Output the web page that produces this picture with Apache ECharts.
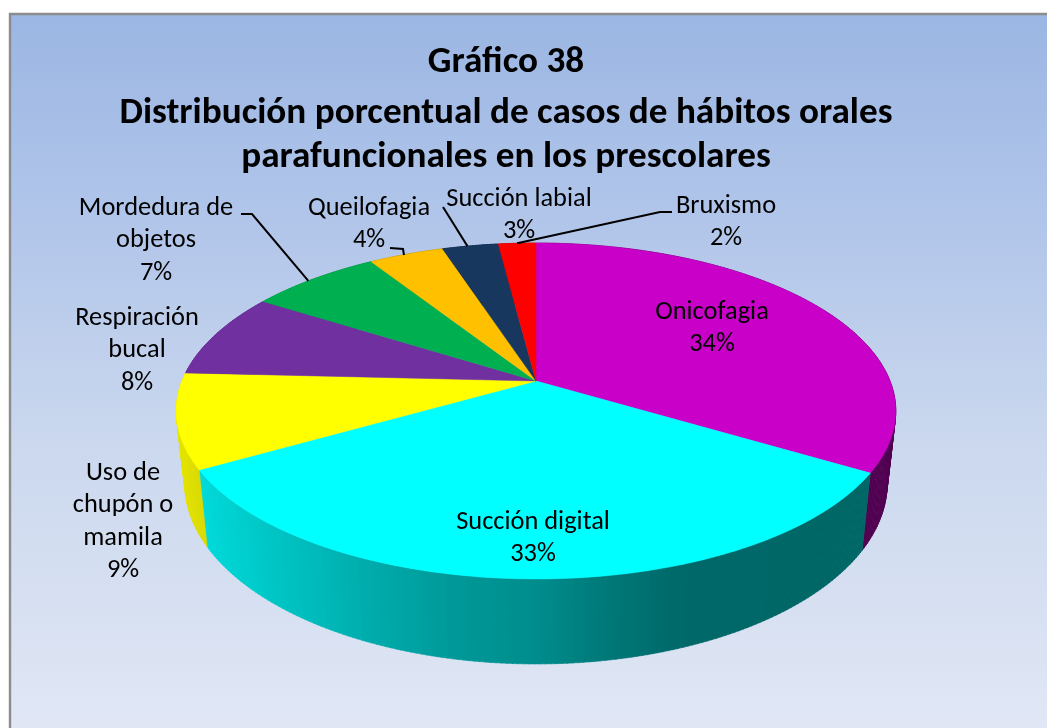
<!DOCTYPE html>
<html><head><meta charset="utf-8">
<style>html,body{margin:0;padding:0;background:#fff}#c{width:1047px;height:728px}</style>
<script src="https://cdn.jsdelivr.net/npm/echarts@6/dist/echarts.min.js"></script>
</head><body><div id="c"></div>
<script>
const categories = ['Onicofagia','Succión digital','Uso de chupón o mamila','Respiración bucal','Mordedura de objetos','Queilofagia','Succión labial','Bruxismo'];
const values = [33.6,33.1,9.1,8.2,7,4,3,2];
const percentLabels = ['34%','33%','9%','8%','7%','4%','3%','2%'];
const colors = ['#c800c8','#00ffff','#ffff00','#7030a0','#00b050','#ffc000','#17375e','#ff0000'];
const titleLines = ['Gráfico 38','Distribución porcentual de casos de hábitos orales','parafuncionales en los prescolares'];
const labelLines = [['Onicofagia'],['Succión digital'],['Uso de','chupón o','mamila'],['Respiración','bucal'],['Mordedura de','objetos'],['Queilofagia'],['Succión labial'],['Bruxismo']];
// label layout: block centre x, first-line centre y
const labelPos = [[712,312],[533,522],[123,473],[137,318],[156,208],[369,208],[519,199],[726,206]];
// leader lines: fixed elbow points, ending on the slice rim (by fraction of the slice)
const leaders = {4:{pts:[[241,214],[252,214]],f:.45},5:{pts:[[390,248],[403,249],[404,255]],f:null},6:{pts:[[443,207]],f:.45},7:{pts:[[672,212],[660,212]],f:.5}};

const cx=536, cy=381, e=0.1786, A=162.6, B=354, S=0.976;
function rimTop(t){const u=Math.sin(t),v=-Math.cos(t),w=1-e*v;return [cx+B*u/w,cy+A*v/w];}
function rimLow(t){const p=rimTop(t);const d=77+(p[1]-471)*0.074;return [cx+(p[0]-cx)*S,p[1]+d];}
function shade(x){const k=[[170,.9],[209,.84],[360,.68],[450,.6],[536,.55],[610,.47],[680,.41],[900,.40]];
  for(let i=1;i<k.length;i++){if(x<=k[i][0]){const a=k[i-1],b=k[i];return a[1]+(b[1]-a[1])*(x-a[0])/(b[0]-a[0]);}}return .4;}
function darken(hex,f){const n=parseInt(hex.slice(1),16);return 'rgb('+[(n>>16)&255,(n>>8)&255,n&255].map(c=>Math.round(c*f)).join(',')+')';}
const total=values.reduce((a,b)=>a+b,0);
const starts=[];values.reduce((s,v,i)=>{starts[i]=s;return s+v;},0);
const ang=v=>v/total*Math.PI*2;
const data=values.map((v,i)=>({name:categories[i],value:[v,starts[i]]}));

function sideItem(params,api){
  const i=params.dataIndex,a0=ang(api.value(1)),a1=a0+ang(api.value(0)),ch=[];
  const step=Math.PI/180*0.75,n=Math.max(1,Math.ceil((a1-a0)/step));
  for(let k=0;k<n;k++){const t0=a0+(a1-a0)*k/n,t1=a0+(a1-a0)*(k+1)/n+(k<n-1?0.002:0);
    const p0=rimTop(t0),p1=rimTop(t1),q0=rimLow(t0),q1=rimLow(t1);
    const c=darken(colors[i],shade((p0[0]+p1[0])/2));
    ch.push({type:'polygon',shape:{points:[p0,p1,q1,q0]},style:{fill:c,stroke:c,lineWidth:.6}});}
  return {type:'group',children:ch};
}
function topItem(params,api){
  const i=params.dataIndex,a0=ang(api.value(1)),a1=a0+ang(api.value(0)),pts=[[cx,cy]];
  const n=Math.max(4,Math.ceil((a1-a0)/(Math.PI/180)));
  for(let k=0;k<=n;k++)pts.push(rimTop(a0+(a1-a0)*k/n));
  return {type:'polygon',shape:{points:pts},style:{fill:colors[i],stroke:colors[i],lineWidth:.5}};
}
function labelItem(params,api){
  const i=params.dataIndex,a0=ang(api.value(1)),a1=a0+ang(api.value(0)),ch=[];
  const L=labelLines[i].concat(percentLabels[i]),P=labelPos[i],lh=32.5;
  L.forEach((s,j)=>ch.push({type:'text',style:{text:s,x:P[0],y:P[1]+j*lh,align:'center',verticalAlign:'middle',font:'26.4px Carlito, Lato, sans-serif',fill:'#000'}}));
  const l=leaders[i];
  if(l){const pts=l.pts.slice();
    if(l.f!=null)pts.push(rimTop(a0+(a1-a0)*l.f));
    ch.push({type:'polyline',shape:{points:pts},style:{stroke:'#000',lineWidth:2,fill:null}});}
  return {type:'group',children:ch};
}
const titleFont={fontFamily:'Carlito, Lato, sans-serif',fontWeight:'bold',fontSize:37.2,color:'#000'};
const chart=echarts.init(document.getElementById('c'),null,{renderer:'canvas',width:1047,height:728});
chart.setOption({
  animation:false,
  backgroundColor:'#fff',
  title:{show:true,text:'{a|'+titleLines[0]+'}\n{b|'+titleLines[1]+'}\n{c|'+titleLines[2]+'}',left:501,top:30,textAlign:'center',
    textStyle:{...titleFont,rich:{a:{...titleFont,lineHeight:56},b:{...titleFont,lineHeight:46},c:{...titleFont,lineHeight:42}}}},
  graphic:[{type:'rect',z:-10,silent:true,shape:{x:10,y:14,width:1040,height:720},style:{fill:{type:'linear',x:0,y:0,x2:0,y2:1,colorStops:[{offset:0,color:'#9bb6e3'},{offset:.3,color:'#b2c6ea'},{offset:.6,color:'#cbd8ee'},{offset:1,color:'#e1e7f5'}]},stroke:'#8c8c8c',lineWidth:2.4}}],
  series:[
    {type:'custom',name:'side',coordinateSystem:'none',z:2,silent:true,renderItem:sideItem,data:data},
    {type:'custom',name:'top',coordinateSystem:'none',z:3,silent:true,renderItem:topItem,data:data},
    {type:'custom',name:'labels',coordinateSystem:'none',z:4,silent:true,renderItem:labelItem,data:data}
  ]
});
</script></body></html>
